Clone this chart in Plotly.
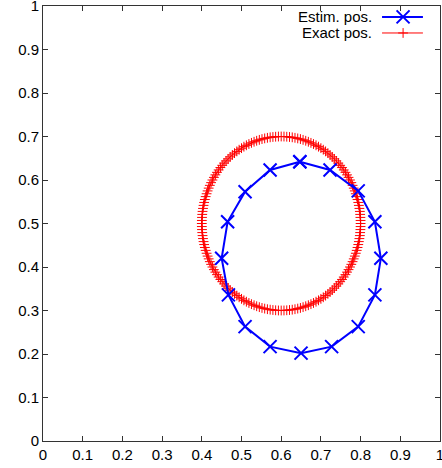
import plotly.graph_objects as go

# Estimated positions (closed polygon)
estim_x = [0.647, 0.723, 0.794, 0.836, 0.851, 0.836, 0.794, 0.727, 0.650,
           0.572, 0.509, 0.467, 0.450, 0.465, 0.509, 0.572, 0.647]
estim_y = [0.642, 0.623, 0.575, 0.504, 0.420, 0.336, 0.263, 0.217, 0.202,
           0.217, 0.263, 0.336, 0.420, 0.504, 0.573, 0.623, 0.642]

# Exact positions
exact_x = [
    0.8000, 0.7999, 0.7995, 0.7989, 0.7981, 0.7970, 0.7956, 0.7941, 0.7923, 0.7902,
    0.7879, 0.7854, 0.7827, 0.7798, 0.7766, 0.7732, 0.7696, 0.7658, 0.7618, 0.7576,
    0.7532, 0.7486, 0.7439, 0.7389, 0.7338, 0.7286, 0.7231, 0.7176, 0.7118, 0.7060,
    0.7000, 0.6939, 0.6877, 0.6813, 0.6749, 0.6684, 0.6618, 0.6551, 0.6484, 0.6416,
    0.6347, 0.6278, 0.6209, 0.6140, 0.6070,
    0.6000, 0.5930, 0.5860, 0.5791, 0.5722, 0.5653, 0.5584, 0.5516, 0.5449, 0.5382,
    0.5316, 0.5251, 0.5187, 0.5123, 0.5061, 0.5000, 0.4940, 0.4882, 0.4824, 0.4769,
    0.4714, 0.4662, 0.4611, 0.4561, 0.4514, 0.4468, 0.4424, 0.4382, 0.4342, 0.4304,
    0.4268, 0.4234, 0.4202, 0.4173, 0.4146, 0.4121, 0.4098, 0.4077, 0.4059, 0.4044,
    0.4030, 0.4019, 0.4011, 0.4005, 0.4001,
    0.4000, 0.4001, 0.4005, 0.4011, 0.4019, 0.4030, 0.4044, 0.4059, 0.4077, 0.4098,
    0.4121, 0.4146, 0.4173, 0.4202, 0.4234, 0.4268, 0.4304, 0.4342, 0.4382, 0.4424,
    0.4468, 0.4514, 0.4561, 0.4611, 0.4662, 0.4714, 0.4769, 0.4824, 0.4882, 0.4940,
    0.5000, 0.5061, 0.5123, 0.5187, 0.5251, 0.5316, 0.5382, 0.5449, 0.5516, 0.5584,
    0.5653, 0.5722, 0.5791, 0.5860, 0.5930,
    0.6000, 0.6070, 0.6140, 0.6209, 0.6278, 0.6347, 0.6416, 0.6484, 0.6551, 0.6618,
    0.6684, 0.6749, 0.6813, 0.6877, 0.6939, 0.7000, 0.7060, 0.7118, 0.7176, 0.7231,
    0.7286, 0.7338, 0.7389, 0.7439, 0.7486, 0.7532, 0.7576, 0.7618, 0.7658, 0.7696,
    0.7732, 0.7766, 0.7798, 0.7827, 0.7854, 0.7879, 0.7902, 0.7923, 0.7941, 0.7956,
    0.7970, 0.7981, 0.7989, 0.7995, 0.7999,
]
exact_y = [
    0.5000, 0.5070, 0.5140, 0.5209, 0.5278, 0.5347, 0.5416, 0.5484, 0.5551, 0.5618,
    0.5684, 0.5749, 0.5813, 0.5877, 0.5939, 0.6000, 0.6060, 0.6118, 0.6176, 0.6231,
    0.6286, 0.6338, 0.6389, 0.6439, 0.6486, 0.6532, 0.6576, 0.6618, 0.6658, 0.6696,
    0.6732, 0.6766, 0.6798, 0.6827, 0.6854, 0.6879, 0.6902, 0.6923, 0.6941, 0.6956,
    0.6970, 0.6981, 0.6989, 0.6995, 0.6999,
    0.7000, 0.6999, 0.6995, 0.6989, 0.6981, 0.6970, 0.6956, 0.6941, 0.6923, 0.6902,
    0.6879, 0.6854, 0.6827, 0.6798, 0.6766, 0.6732, 0.6696, 0.6658, 0.6618, 0.6576,
    0.6532, 0.6486, 0.6439, 0.6389, 0.6338, 0.6286, 0.6231, 0.6176, 0.6118, 0.6060,
    0.6000, 0.5939, 0.5877, 0.5813, 0.5749, 0.5684, 0.5618, 0.5551, 0.5484, 0.5416,
    0.5347, 0.5278, 0.5209, 0.5140, 0.5070,
    0.5000, 0.4930, 0.4860, 0.4791, 0.4722, 0.4653, 0.4584, 0.4516, 0.4449, 0.4382,
    0.4316, 0.4251, 0.4187, 0.4123, 0.4061, 0.4000, 0.3940, 0.3882, 0.3824, 0.3769,
    0.3714, 0.3662, 0.3611, 0.3561, 0.3514, 0.3468, 0.3424, 0.3382, 0.3342, 0.3304,
    0.3268, 0.3234, 0.3202, 0.3173, 0.3146, 0.3121, 0.3098, 0.3077, 0.3059, 0.3044,
    0.3030, 0.3019, 0.3011, 0.3005, 0.3001,
    0.3000, 0.3001, 0.3005, 0.3011, 0.3019, 0.3030, 0.3044, 0.3059, 0.3077, 0.3098,
    0.3121, 0.3146, 0.3173, 0.3202, 0.3234, 0.3268, 0.3304, 0.3342, 0.3382, 0.3424,
    0.3468, 0.3514, 0.3561, 0.3611, 0.3662, 0.3714, 0.3769, 0.3824, 0.3882, 0.3940,
    0.4000, 0.4061, 0.4123, 0.4187, 0.4251, 0.4316, 0.4382, 0.4449, 0.4516, 0.4584,
    0.4653, 0.4722, 0.4791, 0.4860, 0.4930,
]

series_names = ["Estim. pos.", "Exact pos."]
tick_vals = [0, 0.1, 0.2, 0.3, 0.4, 0.5, 0.6, 0.7, 0.8, 0.9, 1]
tick_text = ["0", "0.1", "0.2", "0.3", "0.4", "0.5", "0.6", "0.7", "0.8", "0.9", "1"]

BLUE = "#0000ff"
RED = "#ff0000"
FONT = "Liberation Sans, Arial, sans-serif"

fig = go.Figure()

fig.add_trace(go.Scatter(
    x=exact_x, y=exact_y, mode="lines+markers",
    line=dict(color=RED, width=1),
    marker=dict(symbol="cross-thin", size=7, line=dict(color=RED, width=1)),
    showlegend=False,
))
fig.add_trace(go.Scatter(
    x=estim_x, y=estim_y, mode="lines+markers",
    line=dict(color=BLUE, width=2),
    marker=dict(symbol="x-thin", size=13, line=dict(color=BLUE, width=2)),
    showlegend=False,
))

# gnuplot-style key (text on the left, sample on the right)
key_rows = [0.975, 0.938]
key_styles = [
    dict(line=dict(color=BLUE, width=2),
         marker=dict(symbol="x-thin", size=13, line=dict(color=BLUE, width=2))),
    dict(line=dict(color=RED, width=1),
         marker=dict(symbol="cross-thin", size=7, line=dict(color=RED, width=1))),
]
for name, ky, st in zip(series_names, key_rows, key_styles):
    fig.add_trace(go.Scatter(
        x=[0.854, 0.957], y=[ky, ky], mode="lines", line=st["line"],
        xaxis="x2", yaxis="y2", showlegend=False, hoverinfo="skip"))
    fig.add_trace(go.Scatter(
        x=[0.907], y=[ky], mode="markers", marker=st["marker"],
        xaxis="x2", yaxis="y2", showlegend=False, hoverinfo="skip"))
    fig.add_annotation(
        x=0.834, y=ky, xref="paper", yref="paper", text=name,
        showarrow=False, xanchor="right", yanchor="middle",
        font=dict(family=FONT, size=15, color="#000000"))

axis_common = dict(
    range=[0, 1], tickvals=tick_vals, ticktext=tick_text,
    ticks="inside", ticklen=5, tickwidth=1, tickcolor="#333333",
    showline=True, linecolor="#333333", linewidth=1, mirror="ticks",
    showgrid=False, zeroline=False, automargin=False,
    ticklabeloverflow="allow",
    tickfont=dict(family=FONT, size=15, color="#000000"),
)

fig.update_layout(
    width=442, height=468,
    margin=dict(l=43, r=2, t=6, b=27),
    paper_bgcolor="white", plot_bgcolor="white",
    xaxis=dict(**axis_common),
    yaxis=dict(**axis_common),
    xaxis2=dict(range=[0, 1], overlaying="x", visible=False, anchor="y2"),
    yaxis2=dict(range=[0, 1], overlaying="y", visible=False, anchor="x2"),
    showlegend=False,
)

fig.write_html("out.html", config={"displayModeBar": False},
               post_script="document.body.style.margin='0';")
